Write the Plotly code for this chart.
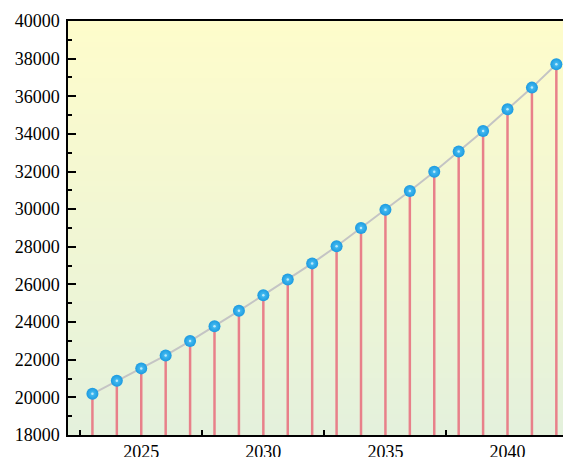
import plotly.graph_objects as go

years = list(range(2023, 2043))
values = [20190, 20880, 21540, 22230, 22990, 23780, 24600, 25430, 26260, 27120,
          28030, 29000, 29970, 30970, 31990, 33070, 34160, 35310, 36460, 37700]
y_base = 18000
y_max = 40000

FONT = "Liberation Serif, Times New Roman, serif"

# stems built from data
stem_x, stem_y = [], []
for yr, v in zip(years, values):
    stem_x += [yr, yr, None]
    stem_y += [y_base, v, None]

fig = go.Figure()
fig.add_trace(go.Scatter(x=stem_x, y=stem_y, mode="lines",
                         line=dict(color="#e8808a", width=2.5),
                         hoverinfo="skip", showlegend=False))
fig.add_trace(go.Scatter(x=years, y=values, mode="lines",
                         line=dict(color="#c4c4c4", width=2),
                         showlegend=False))
fig.add_trace(go.Scatter(x=years, y=values, mode="markers", cliponaxis=False,
                         marker=dict(size=12, color="#1c9ae0",
                                     gradient=dict(type="radial", color="#4cc2f4"),
                                     line=dict(width=0)),
                         showlegend=False))
fig.add_trace(go.Scatter(x=years, y=values, mode="markers", cliponaxis=False,
                         marker=dict(size=2.5, color="rgba(225,247,255,0.75)",
                                     line=dict(width=0)),
                         hoverinfo="skip", showlegend=False))

# gradient background (yellow top -> light green bottom)
top = (0xFE, 0xFC, 0xCB)
bot = (0xE4, 0xF1, 0xDC)
n = 80
shapes = []
for i in range(n):
    t = i / (n - 1)
    c = tuple(round(bot[k] + (top[k] - bot[k]) * t) for k in range(3))
    shapes.append(dict(type="rect", xref="x domain", yref="y domain",
                       x0=0, x1=1, y0=i / n, y1=(i + 1) / n + 0.002,
                       fillcolor="rgb(%d,%d,%d)" % c, line=dict(width=0),
                       layer="below"))

# page body has an 8px margin: size the figure so the plot area lands at
# x 68..571, y 21..435 in the window
fig.update_layout(
    width=563, height=449,
    margin=dict(l=60, r=0, t=13, b=22),
    paper_bgcolor="white",
    plot_bgcolor="rgba(0,0,0,0)",
    shapes=shapes,
    font=dict(family=FONT, size=18, color="black"),
    xaxis=dict(range=[2022.0, 2042.6], tickmode="linear", tick0=2025, dtick=5,
               ticks="", showgrid=False, zeroline=False, automargin=False,
               showline=True, linecolor="black", linewidth=1.5, mirror=True,
               tickformat="d",
               tickfont=dict(family=FONT, size=18, color="black"),
               minor=dict(ticks="inside", tick0=2022.5, dtick=5, ticklen=5,
                          tickwidth=1.5, tickcolor="black", showgrid=False)),
    yaxis=dict(range=[y_base, y_max], tickmode="linear", tick0=18000, dtick=2000,
               ticks="inside", ticklen=8, tickwidth=1.5, tickcolor="black",
               showgrid=False, zeroline=False, automargin=False,
               showline=True, linecolor="black", linewidth=1.5,
               tickformat="d", ticklabelstandoff=3,
               tickfont=dict(family=FONT, size=18, color="black"),
               minor=dict(ticks="inside", dtick=1000, ticklen=4, tickwidth=1.5,
                          tickcolor="black", showgrid=False)),
)

fig.write_html("out.html")
